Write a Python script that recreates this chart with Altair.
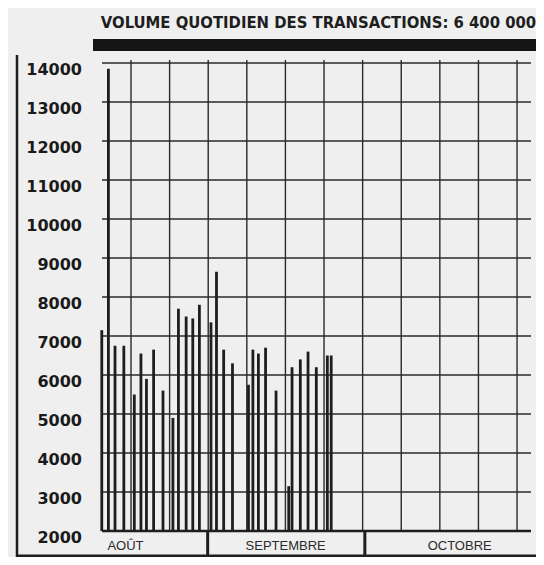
import altair as alt
import pandas as pd

titre = "VOLUME QUOTIDIEN DES TRANSACTIONS: 6 400 000"

# position des barres (jours, grille hebdomadaire tous les 7 jours) et volumes
jours = [1.7, 2.9, 4.1, 5.7, 7.6, 8.8, 9.8, 11.1, 12.8, 14.6, 15.6, 17.0, 18.2, 19.4,
         21.5, 22.5, 23.8, 25.4, 28.3, 29.1, 30.1, 31.4, 33.3, 35.6, 36.2, 37.7, 39.1,
         40.6, 42.6, 43.3]
volumes = [7150, 13850, 6750, 6750, 5500, 6550, 5900, 6650, 5600, 4900, 7700, 7500,
           7450, 7800, 7350, 8650, 6650, 6300, 5750, 6650, 6550, 6700, 5600, 3150,
           6200, 6400, 6600, 6200, 6500, 6500]

mois = ["AOÛT", "SEPTEMBRE", "OCTOBRE"]
mois_centre = [6.0, 35.05, 66.6]
separateurs = [20.9, 49.4]
grille_x = [7, 14, 21, 28, 35, 42, 49, 56, 63, 70, 77]
graduations_y = list(range(2000, 15000, 1000))

x_dom = [1.74, 79.53]
y_dom = [2000, 14000]
xs = alt.Scale(domain=x_dom, nice=False, zero=False)
ys = alt.Scale(domain=y_dom, nice=False, zero=False)

INK = "#1e1e1e"
GRID = "#2a2a2a"
W, H = 439, 468

df_bars = pd.DataFrame({"jour": jours, "volume": volumes})
df_gx = pd.DataFrame({"x": grille_x, "y0": [2000] * len(grille_x), "y1": [14080] * len(grille_x)})
df_gy = pd.DataFrame({"y": graduations_y, "x0": [x_dom[0]] * len(graduations_y),
                      "x1": [x_dom[1]] * len(graduations_y),
                      "lab": [str(v) for v in graduations_y]})
df_base = pd.DataFrame({"x0": [x_dom[0]], "x1": [x_dom[1]], "y": [2000]})
df_mois = pd.DataFrame({"m": mois, "c": mois_centre})
df_sep = pd.DataFrame({"s": separateurs})
df_titre = pd.DataFrame({"t": [titre]})
df_one = pd.DataFrame({"a": [0]})

grid_v = alt.Chart(df_gx).mark_rule(color=GRID, strokeWidth=1.4).encode(
    x=alt.X("x:Q", scale=xs, axis=None),
    y=alt.Y("y0:Q", scale=ys, axis=None),
    y2="y1:Q",
)

grid_h = alt.Chart(df_gy).mark_rule(color=GRID, strokeWidth=1.4).encode(
    x=alt.X("x0:Q", scale=xs, axis=None),
    x2="x1:Q",
    y=alt.Y("y:Q", scale=ys, axis=None),
)

labels_y = alt.Chart(df_gy).mark_text(font="DejaVu Sans", fontWeight="bold", fontSize=16,
                                      color="#1a1a1a", align="right", baseline="middle",
                                      dy=7).encode(
    x=alt.value(-15),
    y=alt.Y("y:Q", scale=ys, axis=None),
    text="lab:N",
)

base = alt.Chart(df_base).mark_rule(color=INK, strokeWidth=2.5).encode(
    x=alt.X("x0:Q", scale=xs, axis=None),
    x2="x1:Q",
    y=alt.Y("y:Q", scale=ys, axis=None),
)

bars = alt.Chart(df_bars).mark_bar(size=2.8, color=INK).encode(
    x=alt.X("jour:Q", scale=xs, axis=None),
    y=alt.Y("volume:Q", scale=ys, axis=None),
    y2=alt.Y2(datum=2000),
)

mois_txt = alt.Chart(df_mois).mark_text(font="Liberation Sans", fontSize=13,
                                        color="#2a2a2a", baseline="middle").encode(
    x=alt.X("c:Q", scale=xs, axis=None),
    y=alt.value(483),
    text="m:N",
)

sep = alt.Chart(df_sep).mark_rule(color=INK, strokeWidth=3).encode(
    x=alt.X("s:Q", scale=xs, axis=None),
    y=alt.value(468),
    y2=alt.value(493),
)

titre_txt = alt.Chart(df_titre).mark_text(font="DejaVu Sans Condensed, DejaVu Sans, sans-serif",
                                          fontWeight="bold", fontSize=16.5, color=INK,
                                          align="center", baseline="alphabetic").encode(
    x=alt.value(221.5),
    y=alt.value(-35),
    text="t:N",
)

bandeau = alt.Chart(df_one).mark_rect(color="#151515").encode(
    x=alt.value(-4), x2=alt.value(452), y=alt.value(-24), y2=alt.value(-12),
)

cadre_bas = alt.Chart(df_one).mark_rule(color=INK, strokeWidth=2.5).encode(
    x=alt.value(-80), x2=alt.value(452), y=alt.value(492.8),
)
cadre_gauche = alt.Chart(df_one).mark_rule(color=INK, strokeWidth=2.5).encode(
    x=alt.value(-80), y=alt.value(-8), y2=alt.value(494),
)

chart = alt.layer(grid_v, grid_h, base, bars, labels_y, mois_txt, sep, titre_txt, bandeau,
                  cadre_bas, cadre_gauche).properties(
    width=W, height=H,
    autosize=alt.AutoSizeParams(type="none"),
    padding={"left": 89, "top": 55, "right": 0, "bottom": 26},
    background="#efefef",
).configure_view(stroke=None)

chart.save("out.html", embed_options={"renderer": "svg", "actions": False})
